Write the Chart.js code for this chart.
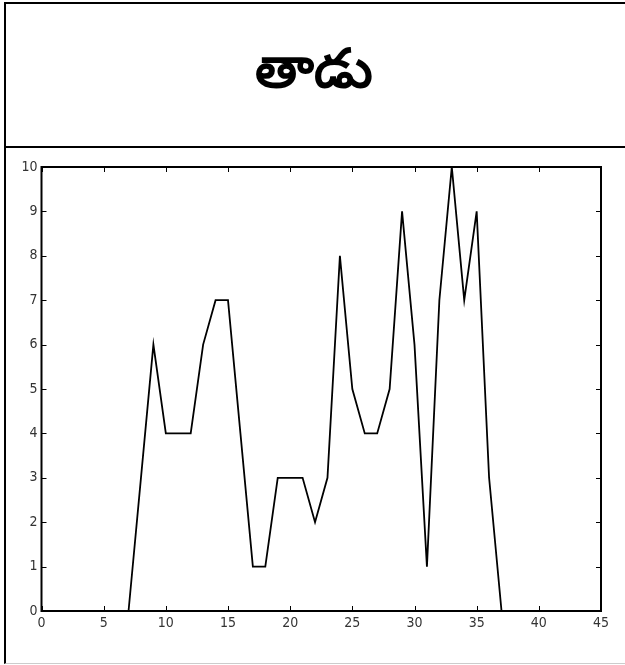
<!DOCTYPE html>
<html>
<head>
<meta charset="utf-8">
<script src="https://cdn.jsdelivr.net/npm/chart.js@4/dist/chart.umd.min.js"></script>
<style>
    body { margin: 0; background: #fff; }
    #frame {
        position: absolute; left: 4px; top: 2px; width: 621px; height: 659px;
        border-left: 2px solid #000; border-top: 2px solid #000;
        border-bottom: 1px solid #ccc;
    }
    #word {
        height: 142px; border-bottom: 2px solid #000;
        display: flex; align-items: center; justify-content: center;
        font-family: 'Noto Sans', sans-serif; font-weight: bold; font-size: 54px; color: #000;
    }
    #word span { position: relative; top: -4px; left: -3px; }
    #plot { position: relative; width: 619px; height: 513px; }
</style>
</head>
<body>
<div id="frame">
    <div id="word"><span>తాడు</span></div>
    <div id="plot"><canvas id="chart"></canvas></div>
</div>
<script>
// column index of the word image and black pixel count in that column
const columns = [1, 2, 3, 4, 5, 6, 7, 8, 9, 10, 11, 12, 13, 14, 15, 16, 17, 18, 19, 20, 21, 22, 23,
    24, 25, 26, 27, 28, 29, 30, 31, 32, 33, 34, 35, 36, 37, 38, 39, 40, 41, 42, 43, 44, 45];
const pixelCounts = [0, 0, 0, 0, 0, 0, 0, 3, 6, 4, 4, 4, 6, 7, 7, 4, 1, 1, 3, 3, 3, 2, 3,
    8, 5, 4, 4, 5, 9, 6, 1, 7, 10, 7, 9, 3, 0, 0, 0, 0, 0, 0, 0, 0, 0];
const xTicks = [0, 5, 10, 15, 20, 25, 30, 35, 40, 45];
const yTicks = [0, 1, 2, 3, 4, 5, 6, 7, 8, 9, 10];

const tickFont = { family: "'Liberation Sans Narrow', 'DejaVu Sans Condensed', sans-serif", size: 14 };

// box around the axes with ticks pointing inward, like matlab
const boxPlugin = {
    id: 'box',
    afterDatasetsDraw(chart) {
        const { ctx, chartArea: a, scales } = chart;
        const len = 5;
        ctx.save();
        ctx.strokeStyle = '#000';
        ctx.lineWidth = 1;
        ctx.beginPath();
        xTicks.forEach(v => {
            const px = Math.round(scales.x.getPixelForValue(v)) + 0.5;
            ctx.moveTo(px, a.bottom); ctx.lineTo(px, a.bottom - len);
            ctx.moveTo(px, a.top); ctx.lineTo(px, a.top + len);
        });
        yTicks.forEach(v => {
            const py = Math.round(scales.y.getPixelForValue(v)) + 0.5;
            ctx.moveTo(a.left, py); ctx.lineTo(a.left + len, py);
            ctx.moveTo(a.right, py); ctx.lineTo(a.right - len, py);
        });
        ctx.stroke();
        ctx.lineWidth = 2;
        ctx.strokeRect(a.left, a.top, a.right - a.left, a.bottom - a.top);
        ctx.restore();
    }
};

document.addEventListener("DOMContentLoaded", () => {
    const ctx = document.getElementById('chart').getContext('2d');
    new Chart(ctx, {
        type: 'line',
        data: {
            datasets: [{
                data: columns.map((c, i) => ({ x: c, y: pixelCounts[i] })),
                borderColor: '#000',
                borderWidth: 1.8,
                pointRadius: 0,
                tension: 0,
                fill: false
            }]
        },
        options: {
            animation: false,
            responsive: true,
            maintainAspectRatio: false,
            layout: { padding: { top: 19, right: 24, bottom: 20, left: 0 } },
            plugins: { legend: { display: false }, tooltip: { enabled: false } },
            scales: {
                x: {
                    type: 'linear', min: 0, max: 45,
                    afterBuildTicks: s => { s.ticks = xTicks.map(v => ({ value: v })); },
                    afterFit: s => { s.height = 30; },
                    grid: { display: false, drawTicks: false },
                    border: { display: false },
                    ticks: { color: '#333', font: tickFont, padding: 4, maxRotation: 0, autoSkip: false }
                },
                y: {
                    min: 0, max: 10,
                    afterBuildTicks: s => { s.ticks = yTicks.map(v => ({ value: v })); },
                    afterFit: s => { s.width = 35.5; },
                    grid: { display: false, drawTicks: false },
                    border: { display: false },
                    ticks: { color: '#333', font: tickFont, padding: 4, autoSkip: false }
                }
            }
        },
        plugins: [boxPlugin]
    });
});
</script>
</body>
</html>
